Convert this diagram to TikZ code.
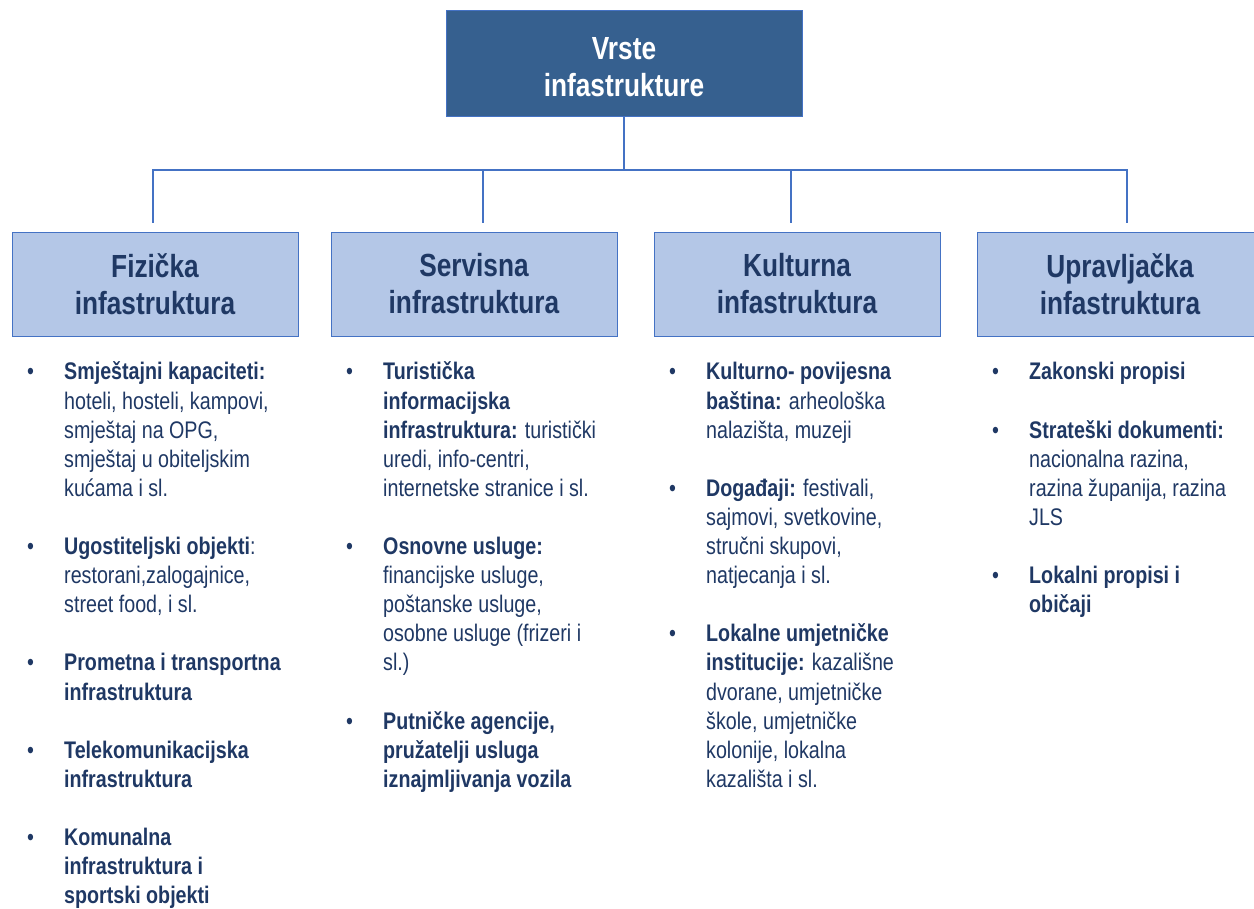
\documentclass[tikz,border=0pt]{standalone}
\usepackage{fontspec}
\setmainfont{Liberation Sans}[FakeStretch=0.82]
\usetikzlibrary{calc}

\definecolor{topblue}{HTML}{36608F}
\definecolor{edgeblue}{HTML}{4472C4}
\definecolor{lightblue}{HTML}{B4C7E7}
\definecolor{navy}{HTML}{1F3864}

\tikzset{
  topbox/.style={draw=edgeblue,fill=topblue,text=white,font=\fontsize{32}{37}\selectfont\bfseries,
    align=center,minimum width=356pt,minimum height=106pt,inner sep=0pt},
  catbox/.style={draw=edgeblue,fill=lightblue,text=navy,font=\fontsize{32}{37}\selectfont\bfseries,
    align=center,minimum width=286pt,minimum height=104pt,inner sep=0pt},
  conn/.style={draw=edgeblue,line width=1.3pt},
  listtxt/.style={anchor=base west,inner sep=0pt,text=navy,font=\fontsize{24}{29.1}\selectfont}
}
\newcommand{\blist}[1]{\begin{tabular}[t]{@{}p{37pt}@{}l@{}}#1\end{tabular}}

\begin{document}
\begin{tikzpicture}[x=1pt,y=-1pt]
	%\draw[help lines,step=50] (0,0) grid (1254,909);
	\useasboundingbox (0,0) rectangle (1254,909);
	\clip (0,0) rectangle (1254,909);

	% main box and the four kinds
	\node[topbox] (vrste) at (624,63) {\rule{0pt}{30pt}Vrste\\infastrukture};
	\node[catbox] (fiz) at (155,284) {Fizička\\infastruktura};
	\node[catbox] (serv) at (474,284) {Servisna\\infrastruktura};
	\node[catbox] (kult) at (797,284) {Kulturna\\infastruktura};
	\node[catbox] (upr) at (1120,284) {Upravljačka\\infastruktura};

	% connectors
	\coordinate (hub) at (vrste.south |- 0,170);
	\coordinate (t1) at (153,223);
	\coordinate (t2) at (483,223);
	\coordinate (t3) at (791,223);
	\coordinate (t4) at (1127,223);
	\draw[conn] (vrste.south) -- (hub);
	\draw[conn] (t1) |- (hub) -| (t4);
	\draw[conn] (t2) -- (t2 |- hub);
	\draw[conn] (t3) -- (t3 |- hub);

	% lists
	\node[listtxt] (fizlist) at (27,380) {\blist{
		\textbullet & \textbf{Smještajni kapaciteti:}\\
		& hoteli, hosteli, kampovi,\\
		& smještaj na OPG,\\
		& smještaj u obiteljskim\\
		& kućama i sl.\\[29.1pt]
		\textbullet & \textbf{Ugostiteljski objekti}:\\
		& restorani,zalogajnice,\\
		& street food, i sl.\\[29.1pt]
		\textbullet & \textbf{Prometna i transportna}\\
		& \textbf{infrastruktura}\\[29.1pt]
		\textbullet & \textbf{Telekomunikacijska}\\
		& \textbf{infrastruktura}\\[29.1pt]
		\textbullet & \textbf{Komunalna}\\
		& \textbf{infrastruktura i}\\
		& \textbf{sportski objekti}}};
	\node[listtxt] (servlist) at (346,380) {\blist{
		\textbullet & \textbf{Turistička}\\
		& \textbf{informacijska}\\
		& \textbf{infrastruktura:} turistički\\
		& uredi, info-centri,\\
		& internetske stranice i sl.\\[29.1pt]
		\textbullet & \textbf{Osnovne usluge:}\\
		& financijske usluge,\\
		& poštanske usluge,\\
		& osobne usluge (frizeri i\\
		& sl.)\\[29.1pt]
		\textbullet & \textbf{Putničke agencije,}\\
		& \textbf{pružatelji usluga}\\
		& \textbf{iznajmljivanja vozila}}};
	\node[listtxt] (kultlist) at (669,380) {\blist{
		\textbullet & \textbf{Kulturno- povijesna}\\
		& \textbf{baština:} arheološka\\
		& nalazišta, muzeji\\[29.1pt]
		\textbullet & \textbf{Događaji:} festivali,\\
		& sajmovi, svetkovine,\\
		& stručni skupovi,\\
		& natjecanja i sl.\\[29.1pt]
		\textbullet & \textbf{Lokalne umjetničke}\\
		& \textbf{institucije:} kazališne\\
		& dvorane, umjetničke\\
		& škole, umjetničke\\
		& kolonije, lokalna\\
		& kazališta i sl.}};
	\node[listtxt] (uprlist) at (992,380) {\blist{
		\textbullet & \textbf{Zakonski propisi}\\[29.1pt]
		\textbullet & \textbf{Strateški dokumenti:}\\
		& nacionalna razina,\\
		& razina županija, razina\\
		& JLS\\[29.1pt]
		\textbullet & \textbf{Lokalni propisi i}\\
		& \textbf{običaji}}};
\end{tikzpicture}
\end{document}
